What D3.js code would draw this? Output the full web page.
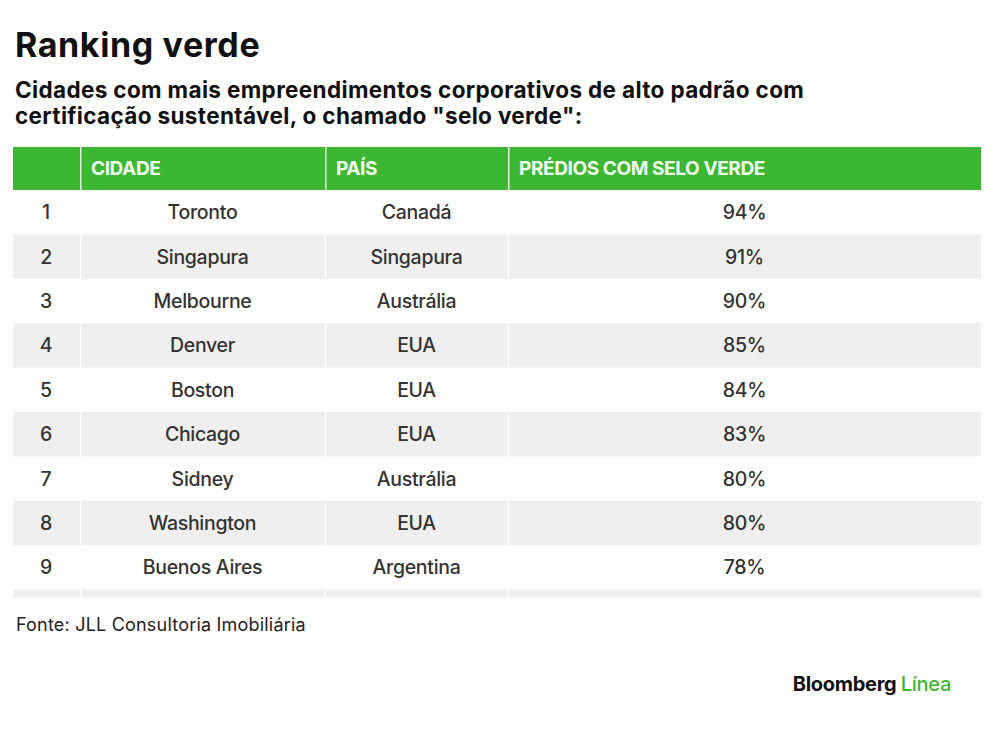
<!DOCTYPE html>
<html><head><meta charset="utf-8">
<script src="https://cdn.jsdelivr.net/npm/d3@7"></script>
<style>body{margin:0;background:#fff;} svg{display:block;font-family:Inter,"Noto Sans",sans-serif;}</style>
</head><body>
<script>
const headers = ["", "CIDADE", "PAÍS", "PRÉDIOS COM SELO VERDE"];
const ranks = [1, 2, 3, 4, 5, 6, 7, 8, 9];
const cities = ["Toronto", "Singapura", "Melbourne", "Denver", "Boston", "Chicago", "Sidney", "Washington", "Buenos Aires"];
const countries = ["Canadá", "Singapura", "Austrália", "EUA", "EUA", "EUA", "Austrália", "EUA", "Argentina"];
const shares = [94, 91, 90, 85, 84, 83, 80, 80, 78];

const W = 1000, H = 733;
const svg = d3.select("body").append("svg").attr("width", W).attr("height", H);

svg.append("text").attr("x", 15).attr("y", 57).attr("font-size", 34).attr("font-weight", 700)
  .attr("letter-spacing", 0.6).attr("fill", "#111").text("Ranking verde");
["Cidades com mais empreendimentos corporativos de alto padrão com",
 "certificação sustentável, o chamado \"selo verde\":"].forEach((t, i) =>
  svg.append("text").attr("x", 15).attr("y", 98 + i * 26).attr("font-size", 22.5).attr("font-weight", 700)
    .attr("letter-spacing", 0.35).attr("fill", "#111").text(t));

// column edges
const colEdges = [13, 80, 325, 508, 981];
const cols = d3.range(4).map(i => ({x0: colEdges[i], x1: colEdges[i + 1]}));
const gap = 1;

const y = d3.scaleBand().domain(d3.range(10)).range([190, 190 + 44.4 * 10]);

// header
svg.append("rect").attr("x", 13).attr("y", 147).attr("width", 968).attr("height", 43).attr("fill", "#3db634");
cols.slice(1).forEach(c => svg.append("rect").attr("x", c.x0).attr("y", 147).attr("width", 1.5).attr("height", 43).attr("fill", "#e8f5e4"));
headers.forEach((h, i) => svg.append("text").attr("x", cols[i].x0 + 11).attr("y", 175)
  .attr("font-size", 19).attr("font-weight", 700).attr("letter-spacing", -0.4).attr("fill", "#f2fff0").text(h));

// row bands (even rows grey, plus partial 10th)
const rowsIdx = d3.range(10).filter(i => i % 2 === 1);
rowsIdx.forEach(i => {
  const h = i === 9 ? 8 : y.bandwidth();
  cols.forEach(c => svg.append("rect").attr("x", c.x0 + (c.x0 === 13 ? 0 : gap)).attr("y", y(i))
    .attr("width", c.x1 - c.x0 - (c.x0 === 13 ? 0 : gap)).attr("height", h).attr("fill", "#efefef"));
});

const rowData = ranks.map((r, i) => [r, cities[i], countries[i], shares[i] + "%"]);
const g = svg.append("g");
rowData.forEach((row, i) => {
  row.forEach((v, j) => {
    const cx = j === 0 ? 46 : (cols[j].x0 + cols[j].x1) / 2;
    g.append("text").attr("x", cx).attr("y", y(i) + y.bandwidth() / 2 + 7)
      .attr("text-anchor", "middle").attr("font-size", 19.5).attr("font-weight", 500)
      .attr("letter-spacing", -0.3).attr("fill", "#333").text(v);
  });
});

svg.append("text").attr("x", 16).attr("y", 631).attr("font-size", 18).attr("letter-spacing", 0.2)
  .attr("fill", "#222").text("Fonte: JLL Consultoria Imobiliária");

const logo = svg.append("text").attr("x", 951).attr("y", 691).attr("text-anchor", "end")
  .attr("font-size", 20).attr("font-weight", 700).attr("letter-spacing", -0.3);
logo.append("tspan").attr("fill", "#111").text("Bloomberg ");
logo.append("tspan").attr("fill", "#3db634").attr("font-weight", 500).text("Línea");
</script>
</body></html>
